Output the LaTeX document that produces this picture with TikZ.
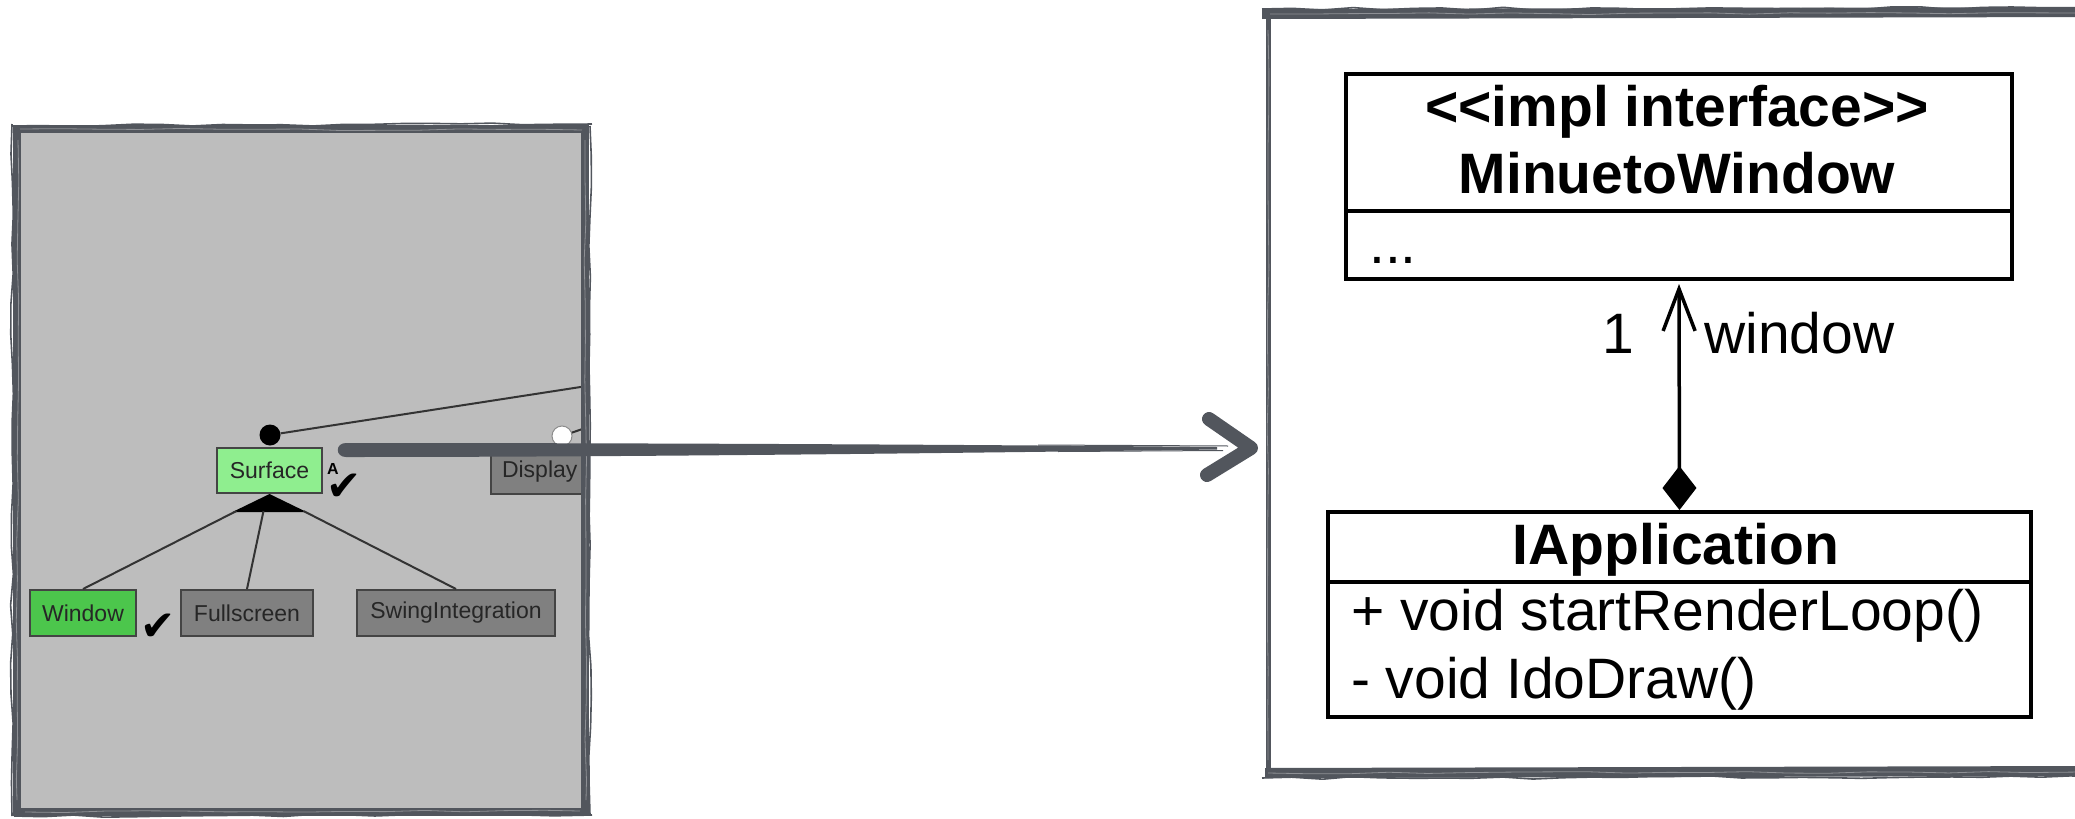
\documentclass[tikz,border=0pt]{standalone}
\usepackage{fontspec}
\setmainfont{Liberation Sans}
\newfontfamily\symfont{DejaVu Sans}
\usetikzlibrary{arrows.meta,decorations.pathmorphing,calc}
\definecolor{brushc}{HTML}{52565D}
\definecolor{panelc}{HTML}{BDBDBD}
\definecolor{lgreen}{HTML}{8FEE8F}
\definecolor{dgreen}{HTML}{4CC64C}
\definecolor{fgray}{HTML}{808080}
\definecolor{fborder}{HTML}{444444}
\pgfmathsetseed{7}
\begin{document}
\begin{tikzpicture}[x=1pt,y=-1pt,
  feat/.style={draw=fborder, line width=2pt, inner sep=0pt, font=\fontsize{23}{26}\selectfont, text=black!85},
  umlbox/.style={draw=black, line width=4pt, inner sep=0pt, fill=white},
  umltext/.style={inner sep=0pt, font=\fontsize{57}{66}\selectfont},
  umlbold/.style={inner sep=0pt, font=\fontsize{57}{66}\selectfont\bfseries},
  featline/.style={draw=black!80, line width=2pt},
  brushmain/.style={draw=brushc, line width=8pt},
  brushrough/.style={draw=brushc, line width=1.6pt, decorate, decoration={random steps, segment length=30pt, amplitude=1.4pt}},
  streak/.style={draw=white, opacity=.35, line width=.8pt, decorate, decoration={random steps, segment length=40pt, amplitude=1pt}},
  checkmk/.style={inner sep=0pt, font=\symfont\fontsize{42}{46}\selectfont},
]
\useasboundingbox (0,0) rectangle (2075,819);
\clip (0,0) rectangle (2075,819);

% ---------- left panel ----------
\fill[panelc] (17,129) rectangle (585,812);
\begin{scope}
  \clip (21,133) rectangle (581,808);
  \node[feat, fill=fgray, minimum height=44pt, anchor=west, inner xsep=11pt] (display) at (490,471.5) {Display\hspace{30pt}};
  \node[feat, fill=lgreen, minimum width=105pt, minimum height=45pt] (surface) at (269.5,470.5) {Surface};
  \node[feat, fill=dgreen, minimum width=106pt, minimum height=46pt] (window) at (83,613) {Window};
  \node[feat, fill=fgray, minimum width=132pt, minimum height=46pt] (fullscreen) at (247,613) {Fullscreen};
  \node[feat, fill=fgray, minimum width=198pt, minimum height=46pt] (swing) at (456,613) {SwingIntegration};
  \coordinate (parent) at (600,384);
  \coordinate (parentb) at (600,423);
  \node[circle, fill=black, inner sep=0pt, minimum size=21pt] (mand) at (270,435) {};
  \draw[featline] (mand) -- (parent);
  \node[circle, fill=white, draw=black!45, line width=1pt, inner sep=0pt, minimum size=20pt] (opt) at (562,436) {};
  \draw[featline] (opt) -- (parentb);
  \fill[black] (surface.south) -- ++(-37,18) -- ++(74,0) -- cycle;
  \draw[featline] ($(surface.south)+(-33,17)$) -- (window.north);
  \draw[featline] ($(surface.south)+(-6,17)$) -- (fullscreen.north);
  \draw[featline] ($(surface.south)+(34,17)$) -- (swing.north);
  \node[checkmk] (chkw) at (158,627) {✔};
  \node[inner sep=0pt, font=\bfseries\fontsize{16}{17}\selectfont] (alab) at (333,469) {A};
  \node[checkmk] (chks) at (344,487) {✔};
\end{scope}
\draw[brushmain] (17,129) rectangle (585,812);
\draw[brushrough] (12,126) -- (592,124);
\draw[brushrough] (12,124) -- (12,816);
\draw[brushrough] (590,126) -- (590,815);
\draw[brushrough] (14,816) -- (592,815);
\draw[streak] (20,129) -- (582,130);
\draw[streak] (18,140) -- (17,800);
\draw[streak] (585,140) -- (586,800);
\draw[streak] (25,812) -- (580,811);

% ---------- right panel ----------
\draw[brushmain, line width=10pt] (1262,14) -- (2090,12);
\draw[brushmain, line width=10pt] (1265,773) -- (2090,771);
\draw[brushmain, line width=5pt] (1268,14) -- (1268,773);
\draw[brushrough] (1262,9) -- (2090,8);
\draw[brushrough] (1262,778) -- (2090,777);
\draw[streak] (1270,14) -- (2080,13);
\draw[streak] (1268,773) -- (2080,772);
\draw[streak] (1268,30) -- (1268,760);

% ---------- big arrow ----------
\coordinate (as) at ($(surface.east)+(15,-20.5)$);
\coordinate (ae) at (1258,448);
\fill[brushc] ($(as)+(8,-7)$) .. controls ($(as)+(300,-7)$) and ($(ae)+(-300,-3.5)$) .. ($(ae)+(-41,-1)$)
  -- ($(ae)+(-41,1.5)$) .. controls ($(ae)+(-300,5)$) and ($(as)+(300,7)$) .. ($(as)+(8,7)$)
  .. controls ($(as)+(-3,7)$) and ($(as)+(-3,-7)$) .. cycle;
\draw[brushc, line width=1pt] ($(ae)+(-220,-3)$) -- ($(ae)+(-30,-2)$);
\draw[brushc, line width=1pt] ($(ae)+(-200,3.5)$) -- ($(ae)+(-35,2.5)$);
\draw[brushc, line width=14pt, line join=round, line cap=round] ($(ae)+(-49,-29)$) -- ($(ae)+(-7,0)$) -- ($(ae)+(-51,27)$);

% ---------- UML ----------
\node[umlbox, minimum width=666pt, minimum height=137pt] (mwhead) at (1679,142.5) {};
\node[umlbox, minimum width=666pt, minimum height=68pt] (mwbody) at (1679,245) {};
\node[umlbold, anchor=base] (stereo) at (1677,126) {<{}<impl interface>{}>};
\node[umlbold, anchor=base] (mwname) at (1677,193) {MinuetoWindow};
\node[umltext, anchor=base west] (mwdots) at (1369,263) {...};

\node[umlbox, minimum width=703pt, minimum height=70pt] (iahead) at (1679.5,547) {};
\node[umlbox, minimum width=703pt, minimum height=135pt] (iabody) at (1679.5,649.5) {};
\node[umlbold, anchor=base] (ianame) at (1676,564) {IApplication};
\node[umltext, anchor=base west] (op1) at (1351,630) {+ void startRenderLoop()};
\node[umltext, anchor=base west] (op2) at (1351,698) {- void IdoDraw()};

\draw[line width=3.5pt, shorten >=3pt, {Diamond[length=44pt,width=34pt]}-{Straight Barb[length=42pt,width=32pt]}] (iahead.north) -- (mwbody.south);
\node[umltext, anchor=base east] (mult) at (1634,353) {1};
\node[umltext, anchor=base west] (role) at (1704,353) {window};
\end{tikzpicture}
\end{document}
